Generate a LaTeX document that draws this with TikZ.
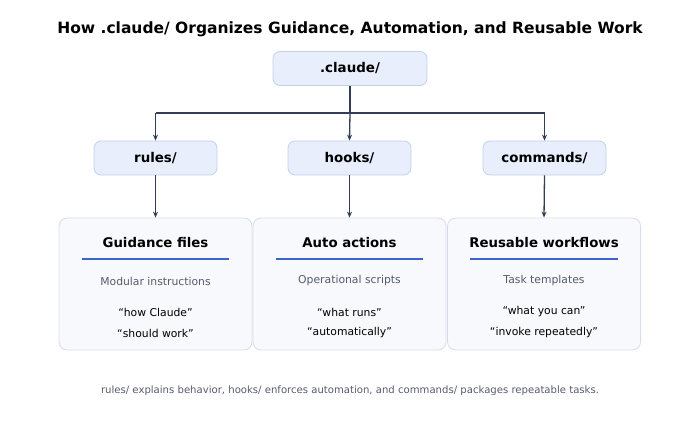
\documentclass[tikz,border=0pt]{standalone}
\usepackage{fontspec}
\setmainfont{DejaVu Sans}
\usetikzlibrary{arrows.meta}
\definecolor{topfill}{HTML}{E8EEFC}
\definecolor{topdraw}{HTML}{C3D0EA}
\definecolor{botfill}{HTML}{F8F9FC}
\definecolor{botdraw}{HTML}{D6DDEA}
\definecolor{linec}{HTML}{333D55}
\definecolor{accent}{HTML}{3A64C8}
\definecolor{subc}{HTML}{555B6B}
\tikzset{
  x=1pt,y=-1pt,
  dirbox/.style={draw=topdraw, fill=topfill, rounded corners=7pt, line width=0.8pt, minimum height=34pt, font=\fontsize{13.4}{15}\selectfont\bfseries, text=black},
  panel/.style={draw=botdraw, fill=botfill, rounded corners=8pt, line width=0.8pt, minimum width=193pt, minimum height=132pt},
  conn/.style={draw=linec, line width=1.3pt},
  arr/.style={conn, -{Stealth[length=6pt,width=5pt]}},
  head/.style={font=\fontsize{13.3}{15}\selectfont\bfseries},
  sub/.style={font=\fontsize{10.8}{12}\selectfont, text=subc},
  quote/.style={font=\fontsize{10.8}{12}\selectfont, text=black},
  rule/.style={draw=accent, line width=1.4pt}
}
\begin{document}
\begin{tikzpicture}
\useasboundingbox (0,0) rectangle (700,428);
\node[font=\fontsize{15.5}{18}\selectfont\bfseries] (title) at (350,29.5) {How .claude/ Organizes Guidance, Automation, and Reusable Work};
\node[dirbox, minimum width=154pt] (root) at (350,68.5) {.claude/};
\node[dirbox, minimum width=123pt] (rules) at (155.5,158) {rules/};
\node[dirbox, minimum width=123pt] (hooks) at (349.5,158) {hooks/};
\node[dirbox, minimum width=123pt] (cmds) at (544.5,158) {commands/};
\coordinate (j) at (350,113);
\coordinate (jl) at (155.5,113);
\coordinate (jr) at (544.5,113);
\draw[conn] (root.south) -- (j);
\draw[conn] (jl) -- (jr);
\draw[arr] (jl) -- (rules.north);
\draw[arr] (j) -- (hooks.north);
\draw[arr] (jr) -- (cmds.north);

\node[panel] (p1) at (155.5,284) {};
\node[panel] (p2) at (349.5,284) {};
\node[panel] (p3) at (544,284) {};
\draw[arr] (rules.south) -- (p1.north);
\draw[arr] (hooks.south) -- (p2.north);
\draw[arr] (cmds.south) -- (p3.north);

\node[head] (h1) at (155.5,242.5) {Guidance files};
\node[head] (h2) at (349.5,242.5) {Auto actions};
\node[head] (h3) at (544,242.5) {Reusable workflows};
\coordinate (a1) at (82,259); \coordinate (b1) at (229,259);
\coordinate (a2) at (276,259); \coordinate (b2) at (423,259);
\coordinate (a3) at (470,259); \coordinate (b3) at (618,259);
\draw[rule] (a1) -- (b1);
\draw[rule] (a2) -- (b2);
\draw[rule] (a3) -- (b3);
\node[sub] (s1) at (155.5,281) {Modular instructions};
\node[sub] (s2) at (349.5,280.5) {Operational scripts};
\node[sub] (s3) at (544,280.5) {Task templates};
\node[quote] (q1a) at (155.5,312) {“how Claude”};
\node[quote] (q1b) at (155.5,333) {“should work”};
\node[quote] (q2a) at (349.5,312) {“what runs”};
\node[quote] (q2b) at (349.5,332.5) {“automatically”};
\node[quote] (q3a) at (544,311.5) {“what you can”};
\node[quote] (q3b) at (544,332.5) {“invoke repeatedly”};
\node[font=\fontsize{10.1}{12}\selectfont, text=subc] (foot) at (350,391) {rules/ explains behavior, hooks/ enforces automation, and commands/ packages repeatable tasks.};
\end{tikzpicture}
\end{document}
